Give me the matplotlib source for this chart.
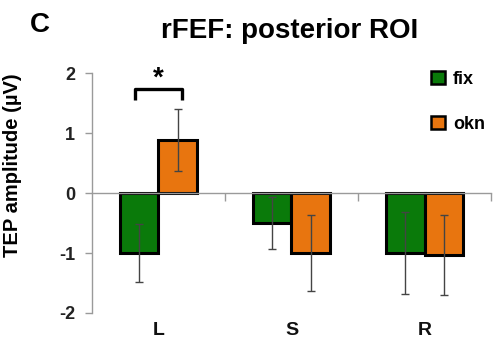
import matplotlib
matplotlib.use("Agg")
import matplotlib.pyplot as plt
import numpy as np
from matplotlib.patches import Patch

plt.rcParams["font.family"] = ["Liberation Sans", "DejaVu Sans"]
plt.rcParams["font.weight"] = "bold"

# ----- data -----------------------------------------------------------------
categories = ["L", "S", "R"]
conditions = ["fix", "okn"]
fix_mean = [-1.0, -0.5, -1.0]
fix_err = [0.48, 0.44, 0.69]
okn_mean = [0.88, -1.0, -1.03]
okn_err = [0.52, 0.63, 0.67]
yticks = [-2, -1, 0, 1, 2]

# significance bracket between fix and okn for "L"
sig_pairs = [(0, "*")]

COLOR_FIX = "#0a7a0a"
COLOR_OKN = "#e8750f"
AXIS_GREY = "#9a9a9a"

fig = plt.figure(figsize=(4.94, 3.43), dpi=100)
ax = fig.add_axes([0.186, 0.0875, 0.808, 0.6995])

x = np.arange(len(categories))
w = 0.29
err_kw = dict(ecolor="#444444", elinewidth=1.0, capsize=3, capthick=1.0)
ax.bar(x - w / 2, fix_mean, w, yerr=fix_err, color=COLOR_FIX,
       edgecolor="black", linewidth=2.2, error_kw=err_kw, zorder=3)
ax.bar(x + w / 2, okn_mean, w, yerr=okn_err, color=COLOR_OKN,
       edgecolor="black", linewidth=2.2, error_kw=err_kw, zorder=3)

ax.set_xlim(-0.5, 2.5)
ax.set_ylim(-2, 2)

# axes styling: zero line as x axis, boundary ticks
for s in ["top", "right"]:
    ax.spines[s].set_visible(False)
ax.spines["left"].set_color(AXIS_GREY)
ax.spines["left"].set_linewidth(1.0)
ax.spines["bottom"].set_position(("data", 0))
ax.spines["bottom"].set_color(AXIS_GREY)
ax.spines["bottom"].set_linewidth(1.0)
ax.spines["bottom"].set_zorder(4)

ax.set_xticks(x + 0.5)
ax.set_xticklabels([])
ax.tick_params(axis="x", direction="out", length=6, color=AXIS_GREY, width=1)

ax.set_yticks(yticks)
ax.set_yticklabels([str(t) for t in yticks])
ax.tick_params(axis="y", direction="out", length=5, color=AXIS_GREY, width=1,
               labelsize=13, pad=7, labelcolor="#222222")
for lab in ax.get_yticklabels():
    lab.set_fontweight("bold")

for xi, cat in zip(x, categories):
    ax.text(xi, -2.3, cat, ha="center", va="center", fontsize=14,
            fontweight="bold", color="#111111", clip_on=False)

ax.set_ylabel("TEP amplitude (\u00b5V)", fontsize=14.5, fontweight="bold")
ax.yaxis.set_label_coords(-0.175, 0.615)

# significance bracket
for idx, mark in sig_pairs:
    x0, x1 = idx - 0.175, idx + 0.175
    ax.plot([x0, x0, x1, x1], [1.55, 1.73, 1.73, 1.55], color="black",
            lw=2.4, clip_on=False, solid_capstyle="butt")
    ax.text(idx, 1.9, mark, ha="center", va="center", fontsize=20,
            fontweight="bold", clip_on=False)

handles = [Patch(facecolor=COLOR_FIX, edgecolor="black", linewidth=1.8),
           Patch(facecolor=COLOR_OKN, edgecolor="black", linewidth=1.8)]
fig.legend(handles, conditions, loc="upper left",
           bbox_to_anchor=(0.84, 0.84), frameon=False,
           prop={"size": 13, "weight": "bold"}, handlelength=0.75,
           handleheight=0.75, handletextpad=0.45, labelspacing=1.55)

fig.text(290 / 494, 1 - 31 / 343, "rFEF: posterior ROI", ha="center",
         va="center", fontsize=20, fontweight="bold")
fig.text(40 / 494, 1 - 25 / 343, "C", ha="center", va="center",
         fontsize=20, fontweight="bold")

fig.savefig("out.png", dpi=100)
